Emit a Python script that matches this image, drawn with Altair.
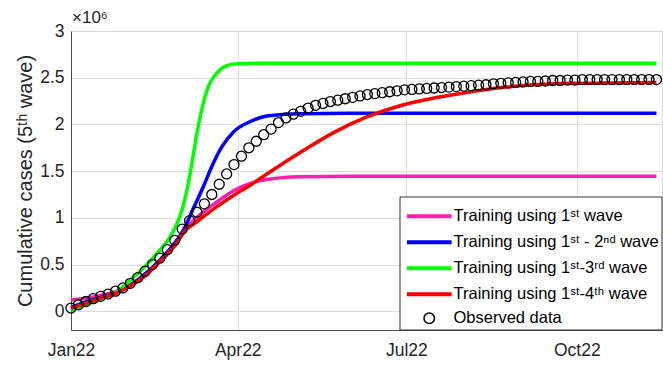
import altair as alt
import pandas as pd

# ---------------- data (values in millions) ----------------
START = "2022-01-01"

obs_vals = [0.035, 0.07, 0.105, 0.135, 0.16, 0.185, 0.215, 0.25, 0.30, 0.36,
            0.43, 0.50, 0.57, 0.66, 0.76, 0.88, 0.97, 1.06, 1.15, 1.25,
            1.36, 1.47, 1.57, 1.66, 1.75, 1.82, 1.89, 1.95, 2.02, 2.07,
            2.11, 2.14, 2.175, 2.205, 2.225, 2.245, 2.26, 2.275, 2.29, 2.305,
            2.32, 2.33, 2.34, 2.35, 2.36, 2.37, 2.375, 2.38, 2.385, 2.39,
            2.395, 2.40, 2.405, 2.41, 2.415, 2.42, 2.425, 2.435, 2.44, 2.445,
            2.45, 2.455, 2.46, 2.46, 2.465, 2.47, 2.47, 2.475, 2.475, 2.48,
            2.48, 2.48, 2.48, 2.48, 2.48, 2.48, 2.48, 2.48, 2.48, 2.48]

w1_days = [0, 8, 16, 24, 32, 40, 48, 56, 62, 66, 70, 78.7, 87.7, 96.7, 105.7, 123.7, 150, 316]
w1_vals = [0.12, 0.14, 0.17, 0.21, 0.28, 0.39, 0.54, 0.72, 0.89, 0.97, 1.04, 1.17, 1.29, 1.37, 1.41, 1.44, 1.445, 1.445]

w12_days = [0, 8, 16, 24, 32, 40, 48, 56, 60.7, 66, 72, 76, 81.4, 87.7, 96.7, 105.7, 123.7, 150, 316]
w12_vals = [0.04, 0.10, 0.15, 0.20, 0.28, 0.40, 0.55, 0.73, 0.87, 1.10, 1.36, 1.55, 1.76, 1.92, 2.03, 2.09, 2.115, 2.12, 2.12]

w13_days = [0, 8, 16, 24, 33, 41, 45.5, 48.2, 55.3, 60, 62.6, 65.3, 68, 70.7, 74.2, 78.7, 84.1, 89.5, 100, 316]
w13_vals = [0.01, 0.07, 0.13, 0.20, 0.35, 0.50, 0.60, 0.66, 0.86, 1.09, 1.30, 1.59, 1.91, 2.17, 2.41, 2.55, 2.63, 2.65, 2.655, 2.655]

w14_days = [0, 8, 16, 24, 32, 40, 48, 56, 62, 66, 70, 78.7, 87.7, 96.7, 105.7, 123.7, 141.5, 159.7, 177.6, 195.4, 210, 235, 271, 316]
w14_vals = [0.03, 0.085, 0.14, 0.19, 0.27, 0.38, 0.53, 0.70, 0.87, 0.93, 0.99, 1.12, 1.24, 1.35, 1.47, 1.70, 1.91, 2.08, 2.20, 2.28, 2.33, 2.40, 2.44, 2.45]

line_names = [
    "Training using 1ˢᵗ wave",
    "Training using 1ˢᵗ - 2ⁿᵈ wave",
    "Training using 1ˢᵗ-3ʳᵈ wave",
    "Training using 1ˢᵗ-4ᵗʰ wave",
]
line_colors = ["#ff1fae", "#0000ff", "#00ff00", "#ff0000"]
obs_name = "Observed data"
exponent_label = ["×10⁶"]

x_ticks = ["2022-01-01", "2022-04-01", "2022-07-01", "2022-10-01"]
y_ticks = [0, 0.5, 1, 1.5, 2, 2.5, 3]

# ---------------- tables ----------------
start = pd.Timestamp(START)
rows = []
for name, days, vals in zip(line_names, [w1_days, w12_days, w13_days, w14_days],
                            [w1_vals, w12_vals, w13_vals, w14_vals]):
    for d, v in zip(days, vals):
        rows.append({"date": start + pd.Timedelta(days=d), "value": v, "series": name})
lines_df = pd.DataFrame(rows)

obs_df = pd.DataFrame({
    "date": pd.date_range(START, periods=len(obs_vals), freq="4D"),
    "value": obs_vals,
    "kind": obs_name,
})

FONT = "Liberation Sans, DejaVu Sans, Arial"
TXT = "#262626"

x_enc = alt.X("date:T",
              scale=alt.Scale(domain=["2022-01-01", "2022-11-16"]),
              axis=alt.Axis(values=x_ticks, format="%b%y", title=None, grid=True,
                            labelFontSize=17.5, labelColor=TXT, labelPadding=11,
                            labelFlush=False, labelOverlap=False,
                            ticks=False, domainColor="#4d4d4d", labelFont=FONT))
y_enc = alt.Y("value:Q",
              scale=alt.Scale(domain=[-0.2, 3], nice=False, zero=False),
              axis=alt.Axis(values=y_ticks, format=".1~f",
                            title="Cumulative cases (5ᵗʰ wave)",
                            titleFontSize=20, titleFontWeight="normal", titleColor=TXT,
                            titlePadding=4, titleFont=FONT, labelFlush=False,
                            labelFontSize=17.5, labelColor=TXT, labelPadding=7,
                            labelFont=FONT, ticks=False, domainColor="#4d4d4d", grid=True))

# legend frame (decoration)
frame = alt.Chart(pd.DataFrame({"k": [0]})).mark_rect(
    fill="white", stroke="#333333", strokeWidth=1
).encode(x=alt.value(329), x2=alt.value(591), y=alt.value(166), y2=alt.value(299))

# axis exponent label
expo = alt.Chart(pd.DataFrame({"t": exponent_label})).mark_text(
    align="left", baseline="middle", fontSize=17, font=FONT, color=TXT
).encode(text="t:N", x=alt.value(1), y=alt.value(-13))

lines = alt.Chart(lines_df).mark_line(strokeWidth=3.5, interpolate="monotone").encode(
    x=x_enc, y=y_enc,
    color=alt.Color("series:N",
                    scale=alt.Scale(domain=line_names, range=line_colors),
                    legend=alt.Legend(
                        title=None, orient="none", legendX=350, legendY=177,
                        labelFontSize=16.5, labelFont=FONT, labelColor="#000000",
                        padding=0, rowPadding=9, labelOffset=16, labelLimit=400,
                        symbolType="M-4,0H4", symbolSize=125, symbolStrokeWidth=4)),
    order=alt.Order("date:T"),
)

points = alt.Chart(obs_df).mark_point(shape="circle", filled=False, size=100,
                                      strokeWidth=1.3, color="black", opacity=1).encode(
    x=x_enc, y=y_enc,
    shape=alt.Shape("kind:N", scale=alt.Scale(domain=[obs_name], range=["circle"]),
                    legend=alt.Legend(
                        title=None, orient="none", legendX=350, legendY=279,
                        labelFontSize=16.5, labelFont=FONT, labelColor="#000000",
                        padding=0, labelOffset=16, symbolSize=110, symbolStrokeWidth=1.6,
                        symbolStrokeColor="black", symbolFillColor="transparent")),
)

chart = alt.layer(lines, points, frame, expo).properties(
    width=591, height=299,
    autosize=alt.AutoSizeParams(type="none"),
    padding={"left": 71, "top": 31, "right": 1, "bottom": 35},
).resolve_legend(color="independent", shape="independent").configure_view(
    stroke="#4d4d4d", strokeWidth=1
).configure_axis(
    gridColor="#e5e5e5", gridWidth=1
).configure(background="white")

chart.save("out.html", embed_options={"renderer": "svg", "actions": False})
